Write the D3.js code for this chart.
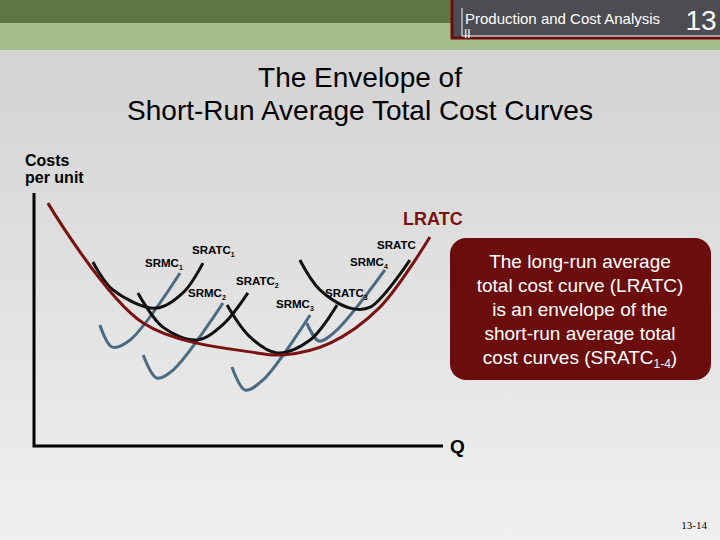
<!DOCTYPE html>
<html><head><meta charset="utf-8">
<script src="https://cdn.jsdelivr.net/npm/d3@7"></script>
<style>body{margin:0}svg{display:block;font-family:Arial,"Liberation Sans",sans-serif}</style>
</head><body><div id="chart"></div>
<script>
// curve points, in (quantity, cost) units
const lratc  = [[0.34,9.6],[2.67,4.86],[5.45,3.68],[6.09,3.6],[7.24,4.07],[8.46,5.49],[9.68,8.26]];
const sratc1 = [[1.44,7.27],[1.93,6.17],[2.99,5.45],[3.64,6.05],[4.13,7.23]];
const sratc2 = [[2.54,6.05],[3.15,4.7],[3.99,4.19],[4.62,4.8],[5.23,6.05]];
const sratc3 = [[4.72,5.57],[5.28,4.31],[5.94,3.68],[6.75,4.19],[7.41,5.57]];
const sratc4 = [[6.5,7.35],[6.99,6.17],[7.73,5.45],[8.22,5.49],[9.19,7.35]];
const srmc1  = [[1.61,4.78],[1.91,3.91],[2.35,4.19],[3.57,6.84]];
const srmc2  = [[2.67,3.6],[3.0,2.69],[3.4,3.0],[4.62,5.65]];
const srmc3  = [[4.84,3.12],[5.16,2.21],[5.6,2.61],[6.75,5.18]];
const srmc4  = [[6.67,4.86],[6.97,4.15],[7.35,4.5],[8.58,6.96]];
const curveLabels = [
  ["SRMC","1",145,267],["SRATC","1",192,254],["SRATC","2",236,285],["SRMC","2",188,297],
  ["SRMC","3",276,308],["SRATC","3",325,297],["SRMC","4",350,266],["SRATC","",377,249]];
const noteLines = ["The long-run average","total cost curve (LRATC)","is an envelope of the","short-run average total"];

const svg = d3.select('#chart').append('svg').attr('width',720).attr('height',540);
const defs = svg.append('defs');
const g = defs.append('linearGradient').attr('id','bg').attr('x1',0).attr('y1',0).attr('x2',0).attr('y2',1);
g.append('stop').attr('offset',0).attr('stop-color','#cfd0cf');
g.append('stop').attr('offset',1).attr('stop-color','#f0f0f0');
svg.append('rect').attr('width',720).attr('height',540).attr('fill','url(#bg)');
svg.append('rect').attr('width',720).attr('height',23).attr('fill','#5f7543');
svg.append('rect').attr('y',23).attr('width',720).attr('height',27).attr('fill','#a6bd8b');
svg.append('rect').attr('x',452).attr('y',-3).attr('width',272).attr('height',41).attr('fill','#4d4c52').attr('stroke','#6b0d0d').attr('stroke-width',3);
svg.append('line').attr('x1',462).attr('x2',720).attr('y1',36).attr('y2',36).attr('stroke','#fff');
svg.append('line').attr('x1',462).attr('x2',462).attr('y1',8).attr('y2',36).attr('stroke','#fff');
svg.append('text').attr('x',465).attr('y',24).attr('fill','#fff').attr('font-size',15).text('Production and Cost Analysis');
svg.append('text').attr('x',464).attr('y',38).attr('fill','#fff').attr('font-size',12).text('II');
svg.append('text').attr('x',701).attr('y',30).attr('fill','#fff').attr('font-size',28).attr('text-anchor','middle').text('13');

svg.append('text').attr('x',360).attr('y',87).attr('text-anchor','middle').attr('font-size',28).text('The Envelope of');
svg.append('text').attr('x',360).attr('y',120).attr('text-anchor','middle').attr('font-size',28).text('Short-Run Average Total Cost Curves');
svg.append('text').attr('x',25).attr('y',166).attr('font-size',16).attr('font-weight','bold').text('Costs');
svg.append('text').attr('x',25).attr('y',183).attr('font-size',16).attr('font-weight','bold').text('per unit');

const x = d3.scaleLinear().domain([0,10]).range([34,443]);
const y = d3.scaleLinear().domain([0,10]).range([446,193]);
svg.append('path').attr('d',`M${x(0)},${y(10)}V${y(0)}H${x(10)}`).attr('fill','none').attr('stroke','#000').attr('stroke-width',3);
svg.append('text').attr('x',450).attr('y',453).attr('font-size',19).attr('font-weight','bold').text('Q');

const line = d3.line().x(d => x(d[0])).y(d => y(d[1])).curve(d3.curveCatmullRom.alpha(0.5));
[[srmc1,'#4a6b82'],[srmc2,'#4a6b82'],[srmc3,'#4a6b82'],[srmc4,'#4a6b82'],
 [sratc1,'#111'],[sratc2,'#111'],[sratc3,'#111'],[sratc4,'#111'],[lratc,'#7a1212']].forEach(([d,c]) => {
  svg.append('path').attr('d',line(d)).attr('fill','none').attr('stroke',c).attr('stroke-width',3);
});

curveLabels.forEach(([t,s,lx,ly]) => {
  const tx = svg.append('text').attr('x',lx).attr('y',ly).attr('font-size',11.5).attr('font-weight','bold').text(t);
  if (s) tx.append('tspan').attr('font-size',7).attr('dy',3).text(s);
});
svg.append('text').attr('x',403).attr('y',225).attr('font-size',18).attr('font-weight','bold').attr('fill','#7a1212').text('LRATC');

svg.append('rect').attr('x',450).attr('y',238).attr('width',261).attr('height',142).attr('rx',16).attr('fill','#6b0d0d');
noteLines.forEach((t,i) => {
  svg.append('text').attr('x',580).attr('y',268 + i*24).attr('text-anchor','middle').attr('fill','#fff').attr('font-size',19).text(t);
});
const last = svg.append('text').attr('x',580).attr('y',364).attr('text-anchor','middle').attr('fill','#fff').attr('font-size',19).text('cost curves (SRATC');
last.append('tspan').attr('font-size',12).attr('dy',4).text('1-4');
last.append('tspan').attr('dy',-4).text(')');

svg.append('text').attr('x',707).attr('y',529).attr('text-anchor','end').attr('font-size',11).attr('font-family','Liberation Serif,serif').text('13-14');
</script></body></html>
